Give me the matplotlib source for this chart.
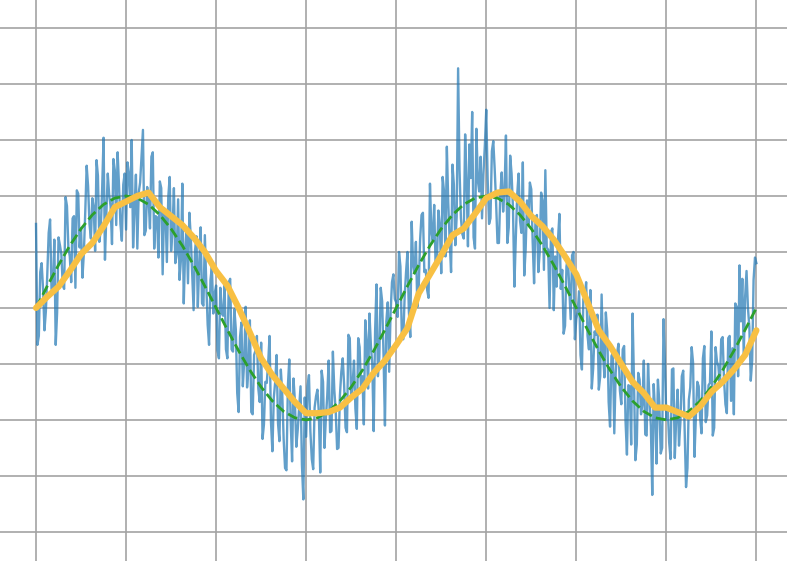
import numpy as np
import matplotlib
matplotlib.use("Agg")
import matplotlib.pyplot as plt

# noisy signal, 64 samples per half-pi step
noisy = [
    0.75, -0.33, -0.25, 0.32, 0.40, 0.17, -0.20, -0.03, 0.30, 0.67, 0.79, 0.17, 0.14, 0.61, -0.33, -0.04,
    0.63, 0.56, 0.48, 0.20, 0.17, 0.99, 0.91, 0.54, 0.46, 0.23, 0.80, 0.82, 0.18, 1.05, 1.02, 0.54,
    0.71, 0.27, 0.49, 0.86, 1.27, 1.09, 0.75, 0.62, 0.98, 0.90, 0.51, 1.32, 1.18, 0.59, 0.70, 1.06,
    1.52, 0.43, 0.84, 1.20, 1.01, 0.91, 0.57, 1.33, 1.23, 0.74, 1.39, 1.09, 0.75, 0.60, 1.10, 1.20,
    0.70, 1.30, 1.20, 0.90, 1.50, 0.54, 0.89, 1.19, 0.53, 1.03, 1.12, 1.36, 1.59, 0.65, 0.69, 1.08,
    0.97, 0.71, 1.35, 1.39, 0.53, 0.82, 0.81, 0.45, 1.13, 1.07, 0.30, 0.89, 0.87, 0.41, 0.99, 1.17,
    0.51, 0.69, 1.07, 0.40, 0.48, 0.97, 0.25, 0.43, 1.11, 0.04, 0.51, 0.69, 0.22, 0.85, 0.63, 0.31,
    -0.02, 0.51, 0.64, 0.01, 0.39, 0.72, 0.04, 0.02, 0.65, 0.22, -0.15, -0.33, 0.25, 0.37, -0.05, 0.13,
    0.20, -0.38, -0.45, 0.18, -0.05, -0.07, 0.20, -0.37, -0.45, 0.23, 0.26, -0.37, -0.39, -0.01, -0.19, -0.76,
    -0.93, -0.26, -0.13, -0.70, -0.47, 0.01, -0.71, -0.54, -0.11, -0.93, -0.95, -0.42, -0.38, -0.25, -0.72, -0.84,
    -0.31, -1.17, -1.04, -0.66, -0.67, -0.49, -0.25, -1.02, -1.28, -0.80, -0.66, -0.42, -1.03, -1.19, -0.55, -0.76,
    -1.17, -1.43, -1.45, -0.70, -0.46, -1.01, -1.37, -0.63, -0.83, -1.24, -1.09, -0.89, -0.70, -1.40, -1.71, -0.80,
    -1.15, -0.70, -0.60, -1.10, -1.35, -1.44, -0.89, -0.79, -0.73, -0.93, -1.47, -0.56, -0.66, -1.25, -0.99, -0.78,
    -0.47, -1.11, -1.10, -0.39, -0.73, -0.92, -1.26, -1.25, -0.78, -0.57, -0.45, -0.69, -1.07, -1.11, -0.24, -0.27,
    -0.81, -0.69, -0.47, -0.90, -1.08, -0.27, -0.35, -0.73, -0.61, -1.04, -0.11, -0.29, -0.72, -0.05, -0.33, -0.51,
    -1.10, -0.21, 0.21, -0.61, -0.44, 0.18, 0.06, -0.42, -1.05, -0.12, 0.05, -0.57, -0.05, 0.23, 0.30, 0.08,
    0.05, -0.08, 0.50, 0.37, -0.25, -0.28, 0.10, 0.32, 0.50, -0.03, -0.26, 0.77, 0.39, 0.31, 0.59, 0.01,
    0.18, 0.61, 0.83, 0.85, 0.32, 0.34, 0.16, 0.09, 1.11, 0.68, 0.60, 0.92, 0.38, 0.45, 0.87, 0.74,
    0.31, 1.17, 1.04, 0.46, 1.44, 0.94, 0.60, 0.32, 1.28, 1.10, 0.56, 0.82, 2.14, 1.24, 0.80, 0.66,
    0.62, 1.55, 1.14, 0.55, 1.46, 1.16, 1.75, 0.63, 0.53, 1.60, 1.14, 1.04, 1.35, 0.80, 1.20, 1.45,
    1.77, 1.15, 0.75, 0.80, 1.40, 1.49, 1.24, 0.94, 0.58, 0.58, 1.02, 1.21, 0.86, 1.05, 1.54, 0.58,
    0.72, 1.36, 1.20, 0.89, 0.19, 0.62, 1.01, 1.20, 0.78, 0.67, 1.30, 0.29, 0.52, 0.96, 0.74, 1.12,
    1.06, 0.59, 0.22, 0.80, 0.83, 0.32, 0.50, 1.03, 0.96, 0.34, 1.23, 0.54, 0.52, 0.00, 0.68, 0.71,
    -0.02, 0.46, 0.19, 0.61, 0.84, 0.17, 0.34, -0.23, -0.16, 0.37, 0.45, 0.17, -0.10, 0.47, 0.50, -0.28,
    -0.10, -0.03, 0.15, -0.42, -0.55, 0.08, 0.10, 0.23, -0.25, -0.37, 0.16, -0.72, -0.54, -0.21, -0.24, -0.06,
    -0.73, -0.61, 0.12, -0.40, -0.62, -0.04, -0.21, -0.84, -1.06, -0.43, -0.40, -1.12, -0.58, -0.40, -0.32, -0.74,
    -0.86, -0.37, -0.34, -1.01, -1.31, -0.69, -0.70, -1.22, -0.05, -0.65, -1.36, -1.22, -0.58, -0.64, -0.95, -0.86,
    -0.47, -1.13, -1.14, -0.50, -0.81, -1.06, -1.67, -0.68, -0.93, -1.39, -0.64, -0.84, -1.30, -1.25, -0.10, -0.50,
    -1.00, -0.90, -1.20, -1.35, -0.55, -0.54, -1.34, -0.99, -0.73, -1.23, -1.02, -0.61, -0.56, -1.10, -1.60, -1.43,
    -0.82, -0.71, -0.35, -0.49, -1.33, -0.97, -0.66, -0.70, -0.98, -1.12, -0.45, -0.34, -1.02, -0.96, -0.69, -0.67,
    -0.21, -1.14, -1.07, -0.35, -0.48, -0.52, -0.70, -0.28, -0.26, -0.64, -0.86, -0.94, -0.27, -0.25, -0.83, -0.36,
    -0.95, 0.04, 0.01, -0.61, 0.38, -0.12, 0.26, -0.42, 0.10, 0.33, 0.00, -0.17, -0.65, -0.47, 0.25, 0.45,
    0.40,
]

# true curve and moving average, 8 samples per half-pi step
true_curve = [
    0.00, 0.195, 0.383, 0.556, 0.707, 0.831, 0.924, 0.981, 1.00, 0.981, 0.924, 0.831, 0.707, 0.556, 0.383, 0.195,
    0.00, -0.195, -0.383, -0.556, -0.707, -0.831, -0.924, -0.981, -1.00, -0.981, -0.924, -0.831, -0.707, -0.556, -0.383, -0.195,
    0.00, 0.195, 0.383, 0.556, 0.707, 0.831, 0.924, 0.981, 1.00, 0.981, 0.924, 0.831, 0.707, 0.556, 0.383, 0.195,
    0.00, -0.195, -0.383, -0.556, -0.707, -0.831, -0.924, -0.981, -1.00, -0.981, -0.924, -0.831, -0.707, -0.556, -0.383, -0.195,
    0.00,
]
moving_avg = [
    0.00, 0.10, 0.19, 0.33, 0.48, 0.58, 0.73, 0.90, 0.95, 1.00, 1.03, 0.90, 0.82, 0.74, 0.63, 0.50,
    0.33, 0.20, 0.00, -0.22, -0.45, -0.60, -0.72, -0.84, -0.94, -0.94, -0.93, -0.89, -0.80, -0.72, -0.58, -0.47,
    -0.33, -0.18, 0.13, 0.30, 0.47, 0.65, 0.71, 0.84, 0.98, 1.03, 1.04, 0.95, 0.82, 0.73, 0.61, 0.46,
    0.30, 0.05, -0.20, -0.34, -0.50, -0.66, -0.76, -0.89, -0.89, -0.93, -0.97, -0.88, -0.75, -0.66, -0.55, -0.42,
    -0.20,
]

x_noisy = np.linspace(0, 4 * np.pi, len(noisy))
x_smooth = np.linspace(0, 4 * np.pi, len(true_curve))

fig = plt.figure(figsize=(7.87, 5.61), dpi=100)
ax = fig.add_axes([0, 0, 1, 1])

ax.plot(x_noisy, noisy, color="#1f77b4", alpha=0.7, lw=1.7, zorder=2)
ax.plot(x_smooth, true_curve, color="#2ca02c", ls="--", lw=2.0, zorder=3)
ax.plot(x_smooth, moving_avg, color="#f8c043", lw=4.5, solid_capstyle="round", zorder=4)

ax.set_xlim(-0.4 * np.pi / 2, 8.34 * np.pi / 2)
ax.set_ylim(-2.26, 2.75)
ax.set_xticks(np.arange(0, 8.5) * np.pi / 2)
ax.set_yticks(np.arange(-2, 2.6, 0.5))
ax.tick_params(length=0, labelleft=False, labelbottom=False)
ax.grid(True, color="#a3a3a3", lw=1.2)
ax.set_axisbelow(True)
for s in ax.spines.values():
    s.set_visible(False)

fig.savefig("out.png", dpi=100)
